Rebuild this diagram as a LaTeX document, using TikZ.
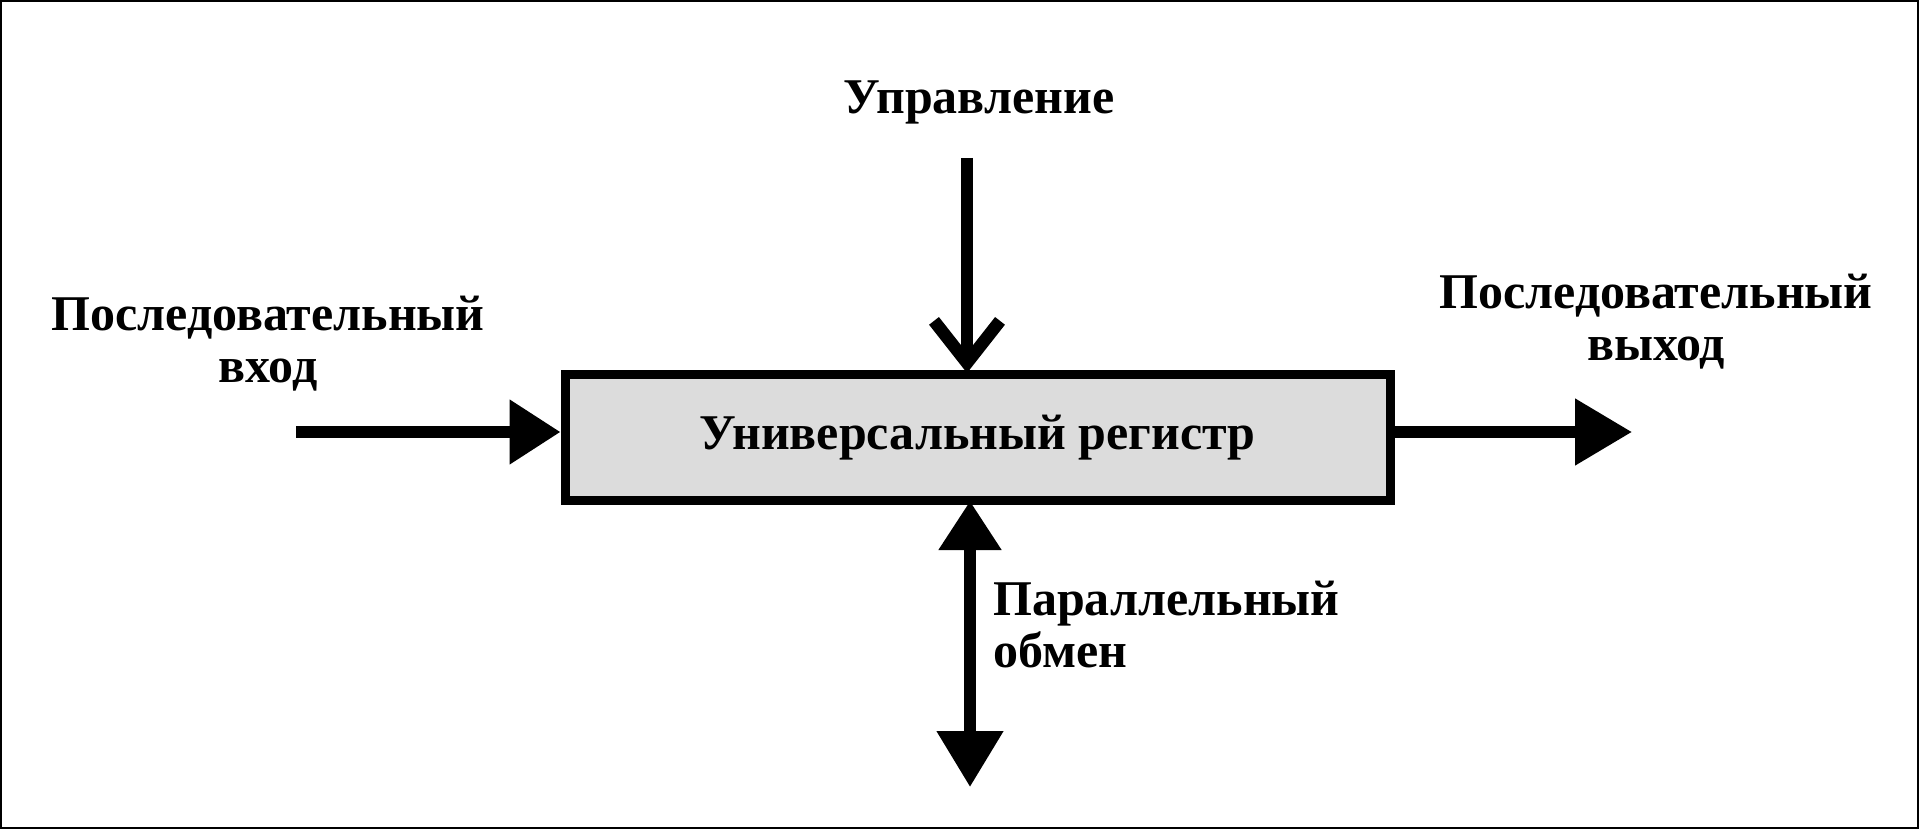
\documentclass[tikz,border=0pt]{standalone}
\usepackage{fontspec}
\setmainfont{Liberation Serif}
\usetikzlibrary{arrows.meta}
\definecolor{boxgray}{HTML}{DCDCDC}
\begin{document}
\begin{tikzpicture}[x=1pt,y=-1pt,
  lbl/.style={font=\fontsize{50}{52}\selectfont\bfseries, inner sep=0pt},
  regbox/.style={draw, line width=9pt, fill=boxgray, minimum width=825pt, minimum height=126pt, inner sep=0pt, font=\fontsize{50}{52}\selectfont\bfseries},
  shaft/.style={line width=11.5pt}
]
\useasboundingbox (0,0) rectangle (1919,829);
\draw[line width=2pt] (1,1) rectangle (1918,828);

\node[regbox] (reg) at (977.5,437.5) {Универсальный регистр};

\node[lbl, anchor=base] (ctl) at (979,114) {Управление};
\node[lbl, anchor=base, align=center] (sin) at (268,382) {Последовательный\\вход};
\node[lbl, anchor=base, align=center] (sout) at (1656,360) {Последовательный\\выход};
\node[lbl, anchor=base west, align=left] (par) at (993,667) {Параллельный\\обмен};

\coordinate (ctltop) at (967,158);
\coordinate (ctlend) at (967,373);
\coordinate (inL) at (296,432);
\coordinate (outR) at (1632,432);
\coordinate (parbot) at (970,787);
\coordinate (partop) at (970,501);

\draw[shaft, -{Straight Barb[length=42pt,width=66pt,line width=12.5pt]}] (ctltop) -- (ctlend);
\draw[shaft, -{Triangle[length=51pt,width=62pt]}] (inL) -- (reg.west |- inL);
\draw[shaft, -{Triangle[length=57pt,width=64pt]}] (reg.east |- outR) -- (outR);
\draw[shaft, {Triangle[length=56pt,width=64pt]}-{Triangle[length=49pt,width=60pt]}] (parbot) -- (partop);
\end{tikzpicture}
\end{document}
